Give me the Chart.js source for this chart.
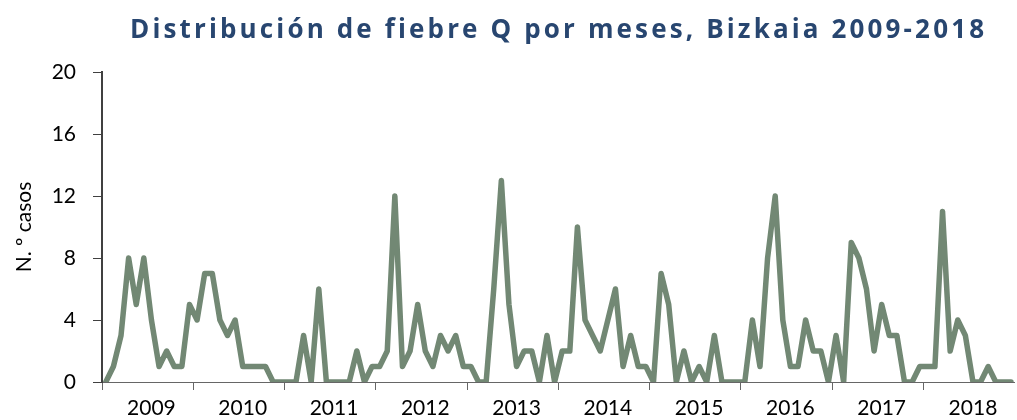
<!DOCTYPE html>
<html>
<head>
<meta charset="utf-8">
<script src="https://cdn.jsdelivr.net/npm/chart.js@4.4.1/dist/chart.umd.min.js"></script>
<style>
  html, body { margin: 0; padding: 0; background: #fff; }
  #wrap { width: 1017px; height: 420px; }
</style>
</head>
<body>
<div id="wrap"><canvas id="fiebreChart"></canvas></div>
<script>
// Datos: casos mensuales de fiebre Q, Bizkaia 2009-2018
const years = ['2009', '2010', '2011', '2012', '2013', '2014', '2015', '2016', '2017', '2018'];
const months = ['ene', 'feb', 'mar', 'abr', 'may', 'jun', 'jul', 'ago', 'sep', 'oct', 'nov', 'dic'];
const casos2009 = [0, 1, 3, 8, 5, 8, 4, 1, 2, 1, 1, 5];
const casos2010 = [4, 7, 7, 4, 3, 4, 1, 1, 1, 1, 0, 0];
const casos2011 = [0, 0, 3, 0, 6, 0, 0, 0, 0, 2, 0, 1];
const casos2012 = [1, 2, 12, 1, 2, 5, 2, 1, 3, 2, 3, 1];
const casos2013 = [1, 0, 0, 6, 13, 5, 1, 2, 2, 0, 3, 0];
const casos2014 = [2, 2, 10, 4, 3, 2, 4, 6, 1, 3, 1, 1];
const casos2015 = [0, 7, 5, 0, 2, 0, 1, 0, 3, 0, 0, 0];
const casos2016 = [0, 4, 1, 8, 12, 4, 1, 1, 4, 2, 2, 0];
const casos2017 = [3, 0, 9, 8, 6, 2, 5, 3, 3, 0, 0, 1];
const casos2018 = [1, 1, 11, 2, 4, 3, 0, 0, 1, 0, 0, 0];
const yTicks = [0, 4, 8, 12, 16, 20];

const categories = [];
years.forEach(y => months.forEach(m => categories.push(m + ' ' + y)));
const casos = [].concat(casos2009, casos2010, casos2011, casos2012, casos2013,
                        casos2014, casos2015, casos2016, casos2017, casos2018);

const chartTitle = 'Distribución de fiebre Q por meses, Bizkaia 2009-2018';

// Titulo con espaciado entre letras (el titulo de Chart.js no lo permite)
const spacedTitle = {
    id: 'spacedTitle',
    afterDraw(chart) {
        const ctx = chart.ctx;
        ctx.save();
        ctx.font = 'bold 26px "Open Sans"';
        ctx.fillStyle = '#284670';
        ctx.textAlign = 'left';
        ctx.textBaseline = 'alphabetic';
        const plain = ctx.measureText(chartTitle).width;
        const spacing = Math.max(0, (854 - plain) / (chartTitle.length - 1));
        ctx.letterSpacing = spacing + 'px';
        const w = plain + spacing * (chartTitle.length - 1);
        ctx.fillText(chartTitle, 557 - w / 2, 38);
        ctx.restore();
    }
};

new Chart(document.getElementById('fiebreChart'), {
    type: 'line',
    data: {
        labels: categories,
        datasets: [{
            label: 'Casos',
            data: casos,
            borderColor: '#728874',
            borderWidth: 5.5,
            borderJoinStyle: 'round',
            borderCapStyle: 'round',
            pointRadius: 0,
            tension: 0,
            fill: false
        }]
    },
    options: {
        responsive: true,
        maintainAspectRatio: false,
        animation: false,
        layout: { padding: { top: 72, left: 0, right: 0, bottom: 0 } },
        plugins: {
            legend: { display: false },
            tooltip: { enabled: false }
        },
        scales: {
            x: {
                type: 'category',
                offset: true,
                afterFit: s => { s.height = 38; },
                grid: {
                    offset: true,
                    drawOnChartArea: false,
                    tickLength: 8,
                    color: c => (c.index % 12 === 0 ? '#666666' : 'rgba(0,0,0,0)')
                },
                border: { color: '#666666', width: 1 },
                ticks: {
                    autoSkip: false,
                    maxRotation: 0,
                    minRotation: 0,
                    padding: 6,
                    color: '#000',
                    font: { family: 'Lato', size: 21 },
                    callback: (v, i) => (i % 12 === 6 ? years[Math.floor(i / 12)] : '')
                }
            },
            y: {
                min: 0,
                max: 20,
                afterFit: s => { s.width = 102; },
                afterBuildTicks: s => { s.ticks = yTicks.map(v => ({ value: v })); },
                grid: {
                    drawOnChartArea: false,
                    tickLength: 9,
                    color: '#404040'
                },
                border: { color: '#404040', width: 2 },
                ticks: {
                    padding: 17,
                    color: '#000',
                    font: { family: 'Lato', size: 21 }
                },
                title: {
                    display: true,
                    text: 'N. º casos',
                    color: '#000',
                    font: { family: 'Lato', size: 21 },
                    padding: { top: 12, bottom: 0 }
                }
            }
        }
    },
    plugins: [spacedTitle]
});
</script>
</body>
</html>
